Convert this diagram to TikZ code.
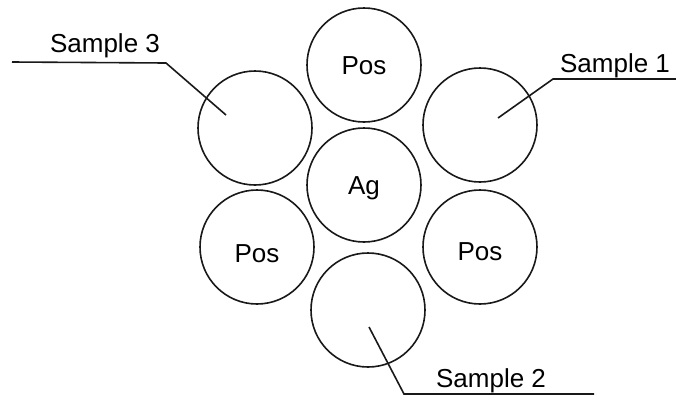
\documentclass[tikz,border=0pt]{standalone}
\usepackage{fontspec}
\setmainfont{Liberation Sans}
\begin{document}
\begin{tikzpicture}[x=1pt,y=-1pt,
  well/.style={draw=black!90,circle,line width=1.6pt,minimum size=114pt,inner sep=0pt,
    font=\fontsize{26}{30}\selectfont,text height=19pt,text depth=0pt},
  lowtext/.style={text height=#1},
  tag/.style={anchor=base,inner sep=0pt,font=\fontsize{26}{30}\selectfont},
  leader/.style={draw=black!90,line width=1.6pt,line join=miter}]
  \useasboundingbox (0,0) rectangle (676,397);

  % central well and the six wells around it
  \node[well] (ag)   at (364,185) {Ag};
  \node[well] (posT) at (364,65)  {Pos};
  \node[well] (s3)   at (255,128) {};
  \node[well] (s1)   at (480,125) {};
  \node[well,lowtext=31pt] (posL) at (257,247) {Pos};
  \node[well,lowtext=27pt] (posR) at (480,247) {Pos};
  \node[well] (s2)   at (368,310) {};

  % sample labels
  \node[tag] (l3) at (105,52)  {Sample 3};
  \node[tag] (l1) at (615,72)  {Sample 1};
  \node[tag] (l2) at (491,387) {Sample 2};

  % leader lines: tip inside the well, bend, shelf under the label
  \coordinate (t3) at (226,115);
  \coordinate (b3) at (166,63);
  \coordinate (e3) at (12,62);
  \coordinate (t1) at (498,118);
  \coordinate (b1) at (553,79);
  \coordinate (e1) at (676,79);
  \coordinate (t2) at (369,327);
  \coordinate (b2) at (404,394);
  \coordinate (e2) at (594,394);

  \draw[leader] (t3) -- (b3) -- (e3);
  \draw[leader] (t1) -- (b1) -- (e1);
  \draw[leader] (t2) -- (b2) -- (e2);
\end{tikzpicture}
\end{document}
